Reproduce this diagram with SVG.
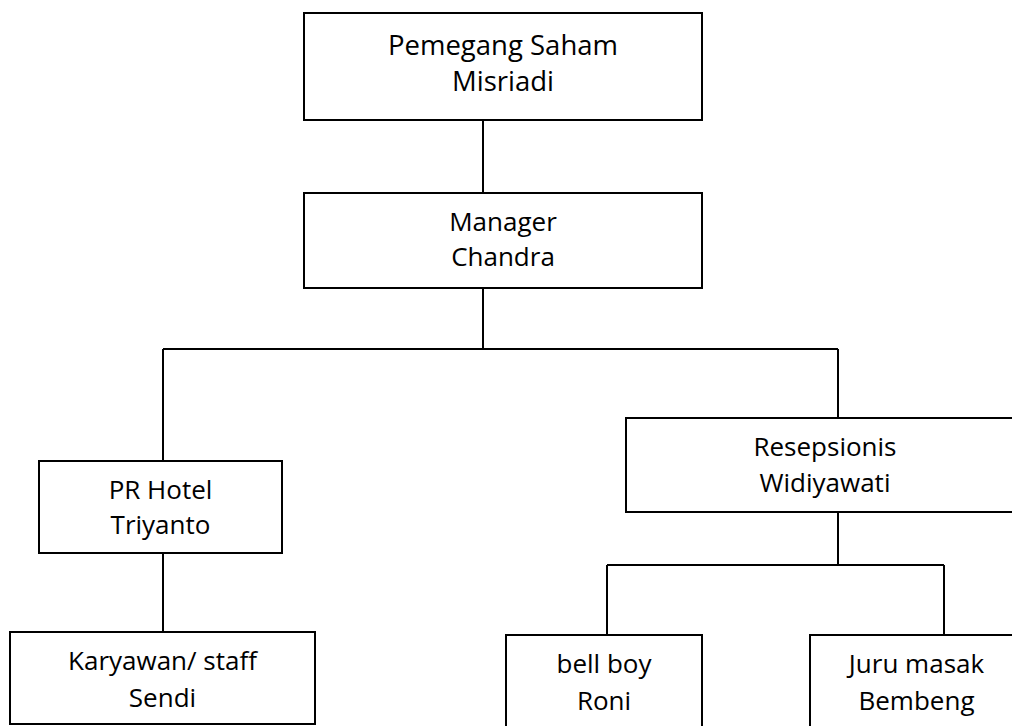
<svg xmlns="http://www.w3.org/2000/svg" width="1012" height="726" viewBox="0 0 1012 726">
<style>
.box{fill:#fff;stroke:#000;stroke-width:2}
.t{font-family:"Open Sans","Noto Sans",sans-serif;font-size:26px;fill:#000;text-anchor:middle}
.big{font-size:27.5px}
.c{stroke:#000;stroke-width:2;fill:none}
</style>
<rect width="1012" height="726" fill="#fff"/>
<g id="connectors">
<path class="c" d="M483 120V193"/>
<path class="c" d="M483 288V349"/>
<path class="c" d="M163 349H838"/>
<path class="c" d="M163 349V461"/>
<path class="c" d="M838 349V418"/>
<path class="c" d="M163 553V632"/>
<path class="c" d="M838 512V565"/>
<path class="c" d="M607 565H944"/>
<path class="c" d="M607 565V635"/>
<path class="c" d="M944 565V635"/>
</g>
<g id="pemegang">
<rect class="box" x="304" y="13" width="398" height="107"/>
<text class="t big" x="503" y="55">Pemegang Saham</text>
<text class="t big" x="503" y="91">Misriadi</text>
</g>
<g id="manager">
<rect class="box" x="304" y="193" width="398" height="95"/>
<text class="t" x="503" y="231">Manager</text>
<text class="t" x="503" y="266">Chandra</text>
</g>
<g id="pr-hotel">
<rect class="box" x="39" y="461" width="243" height="92"/>
<text class="t" x="160.5" y="499">PR Hotel</text>
<text class="t" x="160.5" y="534">Triyanto</text>
</g>
<g id="resepsionis">
<rect class="box" x="626" y="418" width="398" height="94"/>
<text class="t" x="825" y="456">Resepsionis</text>
<text class="t" x="825" y="492">Widiyawati</text>
</g>
<g id="karyawan">
<rect class="box" x="10" y="632" width="305" height="92"/>
<text class="t" x="162.5" y="670">Karyawan/ staff</text>
<text class="t" x="162.5" y="707">Sendi</text>
</g>
<g id="bellboy">
<rect class="box" x="506" y="635" width="196" height="100"/>
<text class="t" x="604" y="673">bell boy</text>
<text class="t" x="604" y="710">Roni</text>
</g>
<g id="juru-masak">
<rect class="box" x="810" y="635" width="214" height="100"/>
<text class="t" x="916.5" y="673">Juru masak</text>
<text class="t" x="916.5" y="710">Bembeng</text>
</g>
</svg>
